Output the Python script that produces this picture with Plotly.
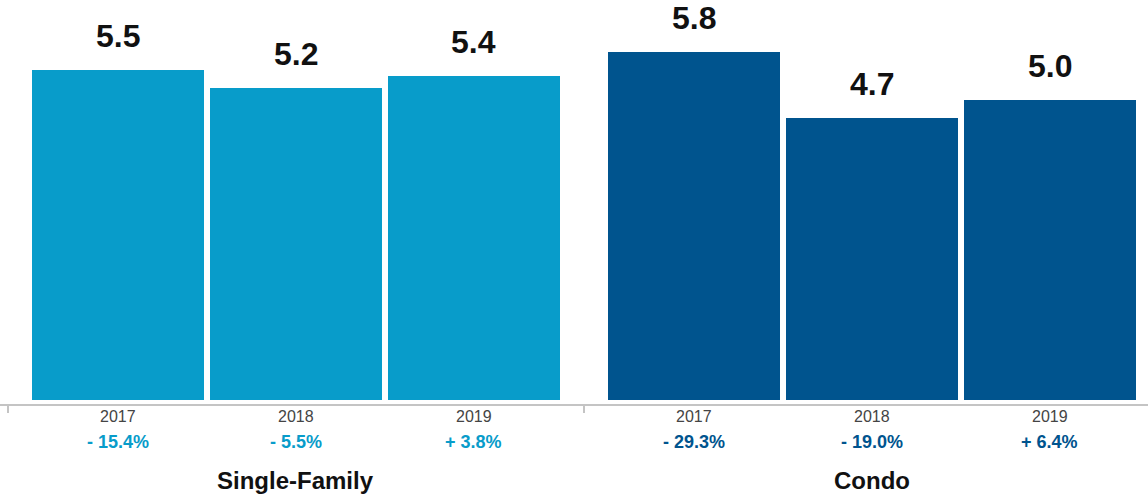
import plotly.graph_objects as go

# Months of supply by property type and year
groups = ["Single-Family", "Condo"]
years = ["2017", "2018", "2019"]
single_family = [5.5, 5.2, 5.4]
condo = [5.8, 4.7, 5.0]
sf_change = ["- 15.4%", "- 5.5%", "+ 3.8%"]
condo_change = ["- 29.3%", "- 19.0%", "+ 6.4%"]

SF_COLOR = "#089cca"
CONDO_COLOR = "#00548e"
FONT = "Liberation Sans, Arial, Helvetica, sans-serif"

# bar slots are 1 unit apart, with an extra gap between the two groups
GROUP_PITCH = 3.236
BAR_WIDTH = 0.966

series = [
    (single_family, sf_change, SF_COLOR),
    (condo, condo_change, CONDO_COLOR),
]

fig = go.Figure()
annotations = []

for g, (vals, changes, color) in enumerate(series):
    xs = [g * GROUP_PITCH + i for i in range(len(years))]
    fig.add_trace(go.Bar(
        x=xs, y=vals, width=BAR_WIDTH,
        marker=dict(color=color, line=dict(width=0)),
        name=groups[g], showlegend=False, hoverinfo="skip",
    ))
    for x, v, yr, ch in zip(xs, vals, years, changes):
        annotations.append(dict(
            x=x, y=v, xref="x", yref="y", text=f"<b>{v:.1f}</b>",
            showarrow=False, yanchor="middle", yshift=34,
            font=dict(family=FONT, size=32, color="#111111"),
        ))
        annotations.append(dict(
            x=x, y=0, xref="x", yref="paper", text=yr,
            showarrow=False, yanchor="middle", yshift=-12,
            font=dict(family=FONT, size=16, color="#444444"),
        ))
        annotations.append(dict(
            x=x, y=0, xref="x", yref="paper", text=f"<b>{ch}</b>",
            showarrow=False, yanchor="middle", yshift=-38,
            font=dict(family=FONT, size=18, color=color),
        ))
    annotations.append(dict(
        x=g * GROUP_PITCH + 1, y=0, xref="x", yref="paper",
        text=f"<b>{groups[g]}</b>",
        showarrow=False, yanchor="middle", yshift=-76,
        font=dict(family=FONT, size=24, color="#111111"),
    ))

# group boundaries carry the axis ticks
boundaries = [-(GROUP_PITCH - 2) / 2 + k * GROUP_PITCH for k in range(3)]

fig.update_layout(
    width=1148, height=495,
    margin=dict(l=0, r=0, t=0, b=91, pad=0),
    plot_bgcolor="white", paper_bgcolor="white",
    bargap=0,
    annotations=annotations,
    xaxis=dict(
        range=[-0.663, 5.787], showgrid=False, zeroline=False,
        showline=True, linecolor="#c4c4c4", linewidth=2,
        tickmode="array", tickvals=boundaries, ticktext=["", "", ""],
        ticks="outside", ticklen=7, tickwidth=2, tickcolor="#c4c4c4",
        fixedrange=True,
    ),
    yaxis=dict(
        range=[-0.067, 6.667], visible=False, showgrid=False,
        zeroline=False, fixedrange=True,
    ),
)

fig.write_html("out.html")
